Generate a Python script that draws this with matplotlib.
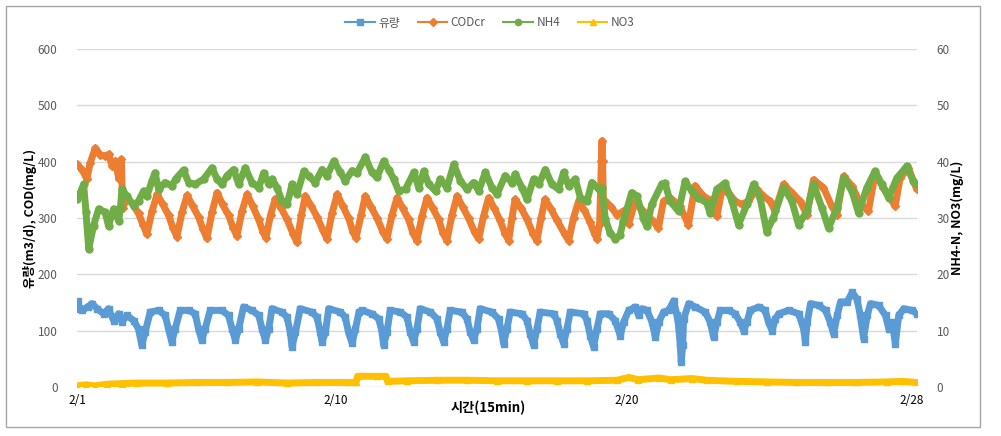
import matplotlib
matplotlib.use("Agg")
import matplotlib.pyplot as plt
from matplotlib.patches import Rectangle
from matplotlib.lines import Line2D

plt.rcParams['font.family'] = ['Noto Sans CJK KR', 'DejaVu Sans']

# ---- data (x = days since 2/1 00:00) ----
flow_day = [0.0, 0.03, 0.08, 0.17, 0.35, 0.5, 0.67, 0.89, 1.05, 1.22, 1.39, 1.5, 1.66, 1.89,
            2.05, 2.16, 2.27, 2.44, 2.72, 2.94, 3.05, 3.16, 3.27, 3.44, 3.72, 3.94, 4.05, 4.16,
            4.27, 4.44, 4.83, 5.05, 5.17, 5.28, 5.39, 5.55, 5.83, 6.06, 6.17, 6.28, 6.39, 6.5,
            6.83, 7.0, 7.11, 7.17, 7.28, 7.44, 7.83, 8.0, 8.11, 8.17, 8.28, 8.39, 8.78, 8.94,
            9.05, 9.17, 9.28, 9.4, 9.5, 9.83, 10.06, 10.17, 10.22, 10.33, 10.44, 10.78, 11.0,
            11.11, 11.22, 11.33, 11.44, 11.78, 12.0, 12.11, 12.22, 12.33, 12.44, 12.83, 13.0,
            13.11, 13.22, 13.33, 13.44, 13.83, 14.05, 14.16, 14.22, 14.33, 14.44, 14.83, 15.0,
            15.11, 15.22, 15.33, 15.44, 15.89, 16.0, 16.11, 16.22, 16.33, 16.44, 16.89, 17.0,
            17.11, 17.22, 17.33, 17.44, 17.72, 17.94, 18.11, 18.22, 18.39, 18.61, 18.72, 18.83,
            19.0, 19.17, 19.28, 19.39, 19.55, 19.72, 19.89, 20.0, 20.05, 20.11, 20.14, 20.19,
            20.22, 20.39, 20.61, 20.94, 21.11, 21.22, 21.33, 21.44, 21.72, 21.94, 22.11, 22.22,
            22.33, 22.44, 22.72, 22.94, 23.05, 23.17, 23.28, 23.39, 23.72, 24.06, 24.22, 24.28,
            24.34, 24.45, 24.72, 24.95, 25.11, 25.22, 25.34, 25.45, 25.67, 25.84, 26.0, 26.11,
            26.22, 26.34, 26.45, 26.72, 26.95, 27.06, 27.17, 27.28, 27.39, 27.56, 27.84, 28.0]
flow_val = [139, 152, 140, 136, 142, 148, 139, 130, 139, 118, 130, 115, 127, 118,
            103, 74, 97, 133, 136, 127, 103, 80, 103, 136, 136, 130, 103, 83,
            103, 136, 136, 127, 103, 83, 103, 142, 136, 127, 103, 83, 103, 139,
            133, 124, 97, 71, 97, 139, 133, 124, 97, 80, 97, 139, 133, 124,
            97, 78, 103, 133, 136, 130, 121, 97, 74, 97, 136, 133, 124,
            97, 80, 103, 139, 133, 121, 97, 80, 103, 136, 133, 121,
            97, 83, 103, 139, 133, 121, 97, 77, 103, 133, 130, 118,
            94, 74, 103, 133, 130, 118, 94, 77, 103, 133, 130, 118,
            91, 71, 103, 130, 130, 118, 91, 115, 136, 142, 127, 139,
            136, 115, 88, 115, 133, 136, 153, 127, 109, 74, 44, 74,
            121, 148, 142, 133, 115, 88, 115, 136, 136, 130, 115, 100,
            115, 136, 142, 136, 115, 100, 121, 130, 136, 130, 103, 80,
            115, 148, 145, 136, 115, 94, 127, 151, 151, 168, 156, 127,
            86, 127, 148, 145, 127, 103, 115, 77, 127, 139, 136, 130]

cod_day = [0.0, 0.17, 0.33, 0.44, 0.61, 0.78, 0.94, 1.06, 1.17, 1.28, 1.39, 1.48, 1.52, 1.67,
           1.85, 2.05, 2.2, 2.33, 2.5, 2.67, 2.85, 3.05, 3.2, 3.33, 3.5, 3.67, 3.85, 4.05, 4.2,
           4.33, 4.5, 4.67, 4.85, 5.05, 5.2, 5.33, 5.5, 5.67, 5.85, 6.05, 6.2, 6.3, 6.45, 6.61,
           6.8, 7.0, 7.2, 7.33, 7.48, 7.61, 7.8, 8.0, 8.2, 8.33, 8.5, 8.67, 8.85, 9.05, 9.2,
           9.3, 9.47, 9.61, 9.8, 10.0, 10.2, 10.33, 10.5, 10.67, 10.85, 11.05, 11.2, 11.33,
           11.5, 11.67, 11.85, 12.05, 12.2, 12.33, 12.5, 12.67, 12.85, 13.05, 13.25, 13.39,
           13.55, 13.72, 13.9, 14.1, 14.27, 14.39, 14.5, 14.6, 14.8, 15.0, 15.2, 15.33, 15.47,
           15.6, 15.8, 16.0, 16.25, 16.39, 16.55, 16.72, 16.9, 17.1, 17.25, 17.33, 17.42,
           17.48, 17.5, 17.52, 17.55, 17.61, 17.8, 18.0, 18.2, 18.39, 18.6, 18.88, 19.21,
           19.38, 19.55, 19.77, 20.1, 20.38, 20.6, 20.88, 21.16, 21.33, 21.49, 21.71, 21.94,
           22.16, 22.38, 22.66, 22.88, 23.1, 23.27, 23.55, 23.83, 24.1, 24.33, 24.55, 24.88,
           25.16, 25.33, 25.55, 25.83, 26.1, 26.38, 26.6, 26.88, 27.1, 27.27, 27.44, 27.71,
           27.99]
cod_val = [395, 386, 369, 398, 424, 412, 410, 413, 392, 401, 370, 404, 318, 335,
           325, 308, 288, 271, 312, 342, 325, 305, 282, 267, 310, 340, 322, 302, 280,
           264, 310, 345, 324, 305, 283, 268, 312, 342, 322, 298, 275, 265, 305, 334,
           318, 298, 272, 257, 305, 339, 322, 302, 278, 263, 308, 342, 322, 300, 275,
           265, 305, 339, 320, 300, 275, 263, 305, 336, 318, 298, 273, 260,
           303, 336, 318, 298, 273, 260, 305, 339, 320, 300, 275, 263,
           303, 336, 318, 296, 272, 260, 300, 333, 318, 298, 272, 260, 300,
           333, 316, 296, 272, 260, 300, 330, 315, 293, 272, 263, 290,
           401, 437, 401, 320, 330, 320, 305, 312, 290, 328, 312, 294,
           282, 330, 336, 321, 288, 357, 339, 330, 303, 348, 345, 330,
           324, 330, 351, 339, 330, 312, 360, 345, 330, 306, 368, 354,
           321, 306, 374, 357, 327, 312, 377, 354, 336, 321, 371, 389,
           351]

nh4_day = [0.0, 0.11, 0.22, 0.3, 0.39, 0.55, 0.72, 0.94, 1.05, 1.22, 1.39, 1.45, 1.5, 1.66,
           1.89, 2.05, 2.22, 2.33, 2.5, 2.6, 2.72, 2.94, 3.16, 3.3, 3.55, 3.72, 3.94, 4.22,
           4.5, 4.67, 4.83, 5.0, 5.22, 5.39, 5.61, 5.83, 6.06, 6.22, 6.39, 6.5, 6.67, 6.83,
           7.0, 7.17, 7.33, 7.56, 7.72, 7.94, 8.17, 8.33, 8.56, 8.78, 8.94, 9.17, 9.33, 9.61,
           9.83, 10.0, 10.22, 10.39, 10.56, 10.72, 10.95, 11.23, 11.39, 11.56, 11.72, 11.95,
           12.11, 12.33, 12.56, 12.78, 13.0, 13.22, 13.39, 13.61, 13.83, 14.0, 14.27, 14.5,
           14.61, 14.83, 15.0, 15.22, 15.39, 15.61, 15.83, 16.05, 16.22, 16.39, 16.61, 16.78,
           17.0, 17.16, 17.39, 17.5, 17.61, 17.77, 17.94, 18.1, 18.21, 18.49, 18.66, 18.88,
           18.99, 19.16, 19.49, 19.6, 19.77, 20.05, 20.27, 20.49, 20.71, 20.99, 21.1, 21.33,
           21.6, 21.83, 22.05, 22.33, 22.55, 22.77, 22.99, 23.21, 23.55, 23.83, 24.05, 24.33,
           24.55, 24.83, 25.05, 25.33, 25.55, 25.83, 26.05, 26.33, 26.6, 26.83, 27.05, 27.33,
           27.66, 27.88, 27.99]
nh4_val = [33.3, 34.5, 36.0, 31.0, 24.5, 28.6, 31.6, 31.0, 28.6, 31.6, 29.5, 32.0, 35.1, 33.9,
           32.2, 33.0, 34.8, 33.9, 36.6, 38.0, 35.1, 36.3, 35.7, 37.0, 38.5, 36.3, 36.0, 36.9,
           38.9, 36.9, 36.0, 37.5, 38.6, 36.0, 38.9, 36.3, 35.4, 38.0, 36.0, 36.9, 35.4, 33.0,
           32.4, 36.0, 34.2, 38.3, 37.5, 36.3, 38.6, 37.5, 40.1, 38.1, 36.6, 38.4, 38.0, 40.8,
           38.1, 37.2, 40.1, 38.6, 36.9, 34.8, 35.1, 38.1, 35.4, 38.3, 36.0, 34.8,
           36.9, 35.4, 39.5, 36.6, 35.1, 36.3, 34.8, 38.1, 35.4, 34.2, 37.5, 36.3,
           37.8, 35.4, 33.3, 36.9, 36.0, 38.6, 36.0, 35.1, 38.1, 35.7, 36.9, 33.6,
           33.0, 36.3, 35.1, 35.4, 29.8, 27.4, 26.3, 27.0, 29.4, 34.5, 33.9, 30.0,
           28.5, 32.4, 36.0, 36.2, 33.0, 31.2, 36.5, 34.8, 33.6, 32.7, 30.9, 35.1,
           36.2, 33.0, 28.8, 32.4, 36.0, 33.6, 27.6, 30.0, 35.4, 33.0, 28.8, 31.2,
           36.0, 31.8, 28.2, 31.8, 37.1, 34.8, 30.9, 35.4, 38.3, 36.0, 33.6, 37.1,
           39.2, 36.5, 36.0]

no3_day = [0.0, 0.3, 0.6, 1.0, 1.5, 2.0, 3.0, 4.0, 5.0, 6.0, 7.0, 8.0, 9.0, 9.3, 9.35, 10.0,
           10.3, 10.35, 11.0, 12.0, 13.0, 14.0, 15.0, 16.0, 17.0, 18.0, 18.4, 18.7, 19.4, 19.8,
           20.5, 21.0, 22.0, 23.0, 24.0, 25.0, 26.0, 27.0, 27.5, 28.0]
no3_val = [0.2, 0.4, 0.2, 0.5, 0.6, 0.7, 0.7, 0.8, 0.8, 0.9, 0.7, 0.8, 0.8, 0.8, 1.9, 1.9,
           1.9, 1.0, 1.1, 1.2, 1.2, 1.1, 1.1, 1.1, 1.1, 1.2, 1.7, 1.3, 1.6, 1.3,
           1.5, 1.2, 1.0, 0.9, 0.8, 0.8, 0.8, 0.9, 1.0, 0.8]

tick_pos = [0.03, 8.63, 18.33, 27.83]
tick_labels = ['2/1', '2/10', '2/20', '2/28']

c_flow, c_cod, c_nh4, c_no3 = '#5B9BD5', '#ED7D31', '#70AD47', '#FFC000'
tcol = '#595959'

fig = plt.figure(figsize=(10.01, 4.36), dpi=100)
fig.patches.append(Rectangle((6 / 1001, 1 - 427 / 436), 974 / 1001, 421 / 436,
                             transform=fig.transFigure, fill=False,
                             edgecolor='#A6A6A6', lw=1))

ax = fig.add_axes([77 / 1001, 1 - 387 / 436, 840 / 1001, 338 / 436])
ax2 = ax.twinx()

line_kw = dict(lw=5, solid_joinstyle='round', solid_capstyle='round')
ax.plot(flow_day, flow_val, color=c_flow, marker='s', ms=5, **line_kw)
ax.plot(cod_day, cod_val, color=c_cod, marker='D', ms=4.5, **line_kw)
ax2.plot(nh4_day, nh4_val, color=c_nh4, marker='o', ms=5, **line_kw)
ax2.plot(no3_day, no3_val, color=c_no3, marker='^', ms=5, **line_kw)

ax.set_xlim(0, 28)
ax.set_ylim(0, 600)
ax2.set_ylim(0, 60)
ax.set_yticks(range(0, 601, 100))
ax2.set_yticks(range(0, 61, 10))
ax.set_xticks(tick_pos)
ax.set_xticklabels(tick_labels, color='black', fontsize=8.5)
ax.grid(axis='y', color='#D9D9D9', lw=1)
ax.set_axisbelow(True)
for a in (ax, ax2):
    for s in a.spines.values():
        s.set_visible(False)
    a.tick_params(length=0, labelsize=8.5, labelcolor=tcol)
ax.tick_params(axis='y', pad=14)
ax2.tick_params(axis='y', pad=14)
ax.tick_params(axis='x', pad=5, labelcolor='black')

fig.text(30 / 1001, 1 - 218 / 436, '유량(m3/d), COD(mg/L)', rotation=90,
         ha='center', va='center', fontsize=9, fontweight='bold')
fig.text(957 / 1001, 1 - 218 / 436, 'NH4-N, NO3(mg/L)', rotation=90,
         ha='center', va='center', fontsize=9, fontweight='bold')
fig.text(488 / 1001, 1 - 408 / 436, '시간(15min)', ha='center', va='center',
         fontsize=9.5, fontweight='bold')

handles = [Line2D([], [], color=c_flow, marker='s', ms=5, lw=1.5),
           Line2D([], [], color=c_cod, marker='D', ms=4, lw=1.5),
           Line2D([], [], color=c_nh4, marker='o', ms=4.5, lw=1.5),
           Line2D([], [], color=c_no3, marker='^', ms=5, lw=1.5)]
leg = fig.legend(handles, ['유량', 'CODcr', 'NH4', 'NO3'], loc='center',
                 bbox_to_anchor=(490 / 1001, 1 - 23 / 436), ncol=4, frameon=False,
                 fontsize=8.5, handlelength=2.5, columnspacing=1.5, handletextpad=0.3)
for t in leg.get_texts():
    t.set_color(tcol)

fig.savefig('out.png', dpi=100)
